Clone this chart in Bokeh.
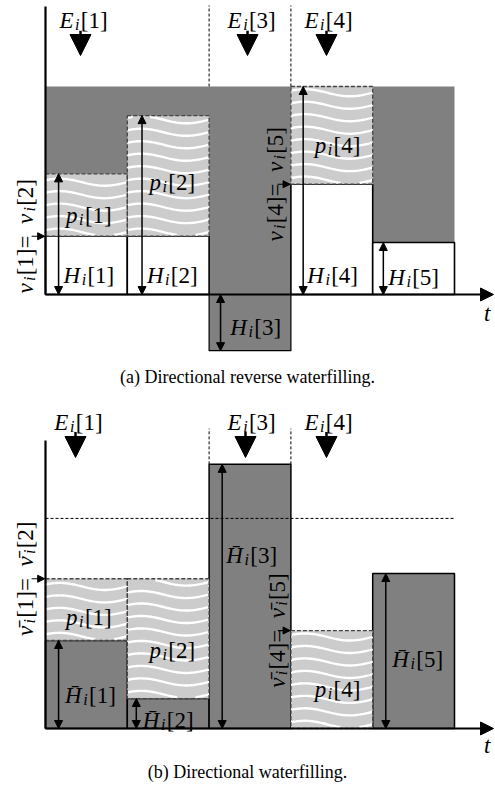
import numpy as np
from bokeh.plotting import figure
from bokeh.models import Arrow, NormalHead, ColumnDataSource
from bokeh.layouts import column
from bokeh.core.properties import value
from bokeh.embed import file_html
from bokeh.resources import INLINE

# ---------------- data ----------------
slots = [1, 2, 3, 4, 5]
left = [0, 1, 2, 3, 4]
right = [1, 2, 3, 4, 5]
E_slots = [1, 3, 4]

# (a) directional reverse waterfilling
ceiling_a = 10.0
H_a = [2.8, 2.8, -2.7, 5.3, 2.5]
p_a = [3.0, 5.8, 0.0, 4.7, 0.0]

# (b) directional waterfilling
H_b = [4.23, 1.44, 12.7, 0.0, 7.45]
p_b = [2.97, 5.76, 0.0, 4.71, 0.0]
ref_level_b = 10.1

caption_a = "(a) Directional reverse waterfilling."
caption_b = "(b) Directional waterfilling."

# ---------------- style ----------------
SERIF = "Liberation Serif"
DARK = "#808080"
WATER = "#cccccc"
FS = 23
XR = (-0.5501, 5.5012)

IT = {'E': 0.611, 'H': 0.722, 'p': 0.5, 'i': 0.278, '\u03bd': 0.47, 't': 0.278}
RM = {'[': 0.333, ']': 0.333, '=': 0.564, ' ': 0.25}


def twidth(s, kind, size):
    tbl = RM if kind == 'rm' else IT
    w = 0.0
    for c in s:
        if c == '\u0304':
            continue
        w += 0.5 if c.isdigit() else tbl.get(c, 0.5)
    if kind == 'it':
        w += 0.07
    if kind == 'sub':
        w += 0.08
    return w * size * (0.7 if kind == 'sub' else 1.0)


def mtext(p, x, y, parts, size=FS, rot=False):
    widths = [twidth(s, k, size) for s, k in parts]
    d = -sum(widths) / 2
    for (s, k), w in zip(parts, widths):
        fs = size * 0.7 if k == 'sub' else size
        shift = 0.32 * size + (0.15 * size if k == 'sub' else 0)
        if rot:
            xo, yo, ang = shift, -d, np.pi / 2
        else:
            xo, yo, ang = d, shift, 0
        p.text(x=[x], y=[y], text=[s], angle=ang, x_offset=xo, y_offset=yo,
               text_align="left", text_baseline="alphabetic",
               text_font=value(SERIF),
               text_font_style="normal" if k == 'rm' else "italic",
               text_font_size=f"{fs:.1f}px", text_color="black")
        d += w


def sym(letter, k, bar=False):
    return [(letter + ('\u0304' if bar else ''), 'it'), ('i', 'sub'), (f'[{k}]', 'rm')]


def waves(p, l, r, b, t):
    xx = np.linspace(l, r, 80)
    xs, ys = [], []
    for base in np.arange(b + 0.2, t + 0.6, 0.6):
        yy = base + 0.17 * np.sin(2 * np.pi * (xx - l) / 1.1 + 0.6)
        yy = np.where((yy > b + 0.06) & (yy < t - 0.06), yy, np.nan)
        if np.all(np.isnan(yy)):
            continue
        xs.append(xx)
        ys.append(yy)
    if xs:
        p.multi_line(xs=xs, ys=ys, line_color="white", line_width=2.4)


def head(size):
    return NormalHead(size=size, fill_color="black", line_color="black", line_width=1)


def varrows(p, xs, y0s, y1s, size=8, lw=1.5):
    src = ColumnDataSource(dict(x=xs, y0=y0s, y1=y1s))
    p.add_layout(Arrow(start=head(size), end=head(size),
                       x_start="x", y_start="y0", x_end="x", y_end="y1",
                       source=src, line_width=lw, line_color="black"))


def harrow(p, x0, x1, y, size=7):
    p.add_layout(Arrow(end=head(size), x_start=x0, y_start=y, x_end=x1, y_end=y, line_width=1.2))


def e_arrows(p, xs, ytop, ytip, ylab, labx):
    for x, lx, k in zip(xs, labx, E_slots):
        p.add_layout(Arrow(end=head(21), x_start=x, y_start=ytop, x_end=x, y_end=ytip, line_width=2.5))
        mtext(p, lx, ylab, sym('E', k))


def axes(p, ytop, ty):
    p.segment(x0=[0], y0=[0], x1=[0], y1=[ytop], line_color="black", line_width=2.2)
    p.add_layout(Arrow(end=head(13), x_start=0, y_start=0, x_end=5.477, y_end=0, line_width=2.2))
    p.text(x=[5.40], y=[ty], text=["t"], text_align="center", text_baseline="middle",
           text_font=value(SERIF), text_font_style="italic", text_font_size=f"{FS}px")


def make_fig(y0, y1, h):
    p = figure(width=495, height=h, x_range=XR, y_range=(y0, y1),
               output_backend="svg", toolbar_location=None, min_border=0,
               x_axis_location=None, y_axis_location=None, outline_line_color=None)
    p.grid.visible = False
    return p


# ================= panel (a) =================
pa = make_fig(-4.8077, 14.135, 394)
pa.quad(left=[0], right=[5], bottom=[0], top=[ceiling_a], fill_color=DARK, line_color=None)
neg = [i for i in range(5) if H_a[i] < 0]
pa.quad(left=[left[i] for i in neg], right=[right[i] for i in neg], bottom=[H_a[i] for i in neg],
        top=[0] * len(neg), fill_color=DARK, line_color="black", line_width=1.2)
pos = [i for i in range(5) if H_a[i] > 0]
pa.quad(left=[left[i] for i in pos], right=[right[i] for i in pos], bottom=[0] * len(pos),
        top=[H_a[i] for i in pos], fill_color="white", line_color="black", line_width=1.6)
wet = [i for i in range(5) if p_a[i] > 0]
wl = [left[i] for i in wet]; wr = [right[i] for i in wet]
wb = [max(H_a[i], 0) for i in wet]; wt = [max(H_a[i], 0) + p_a[i] for i in wet]
pa.quad(left=wl, right=wr, bottom=wb, top=wt, fill_color=WATER, line_color=None)
for a, b, c, d in zip(wl, wr, wb, wt):
    waves(pa, a, b, c, d)
pa.quad(left=wl, right=wr, bottom=wb, top=wt, fill_alpha=0, line_color="#444444",
        line_dash="4 2", line_width=1.3)
pa.segment(x0=[2, 3], y0=[ceiling_a] * 2, x1=[2, 3], y1=[13.9] * 2, line_color="black",
           line_width=1, line_dash="3 2")
axes(pa, 13.85, -0.91)
varrows(pa, [0.16, 1.18, 3.15], [0, 0, 0], [H_a[0] + p_a[0], H_a[1] + p_a[1], H_a[3] + p_a[3]])
varrows(pa, [2.14, 4.13], [H_a[2], 0], [0, H_a[4]])
harrow(pa, -0.17, -0.01, H_a[0])
harrow(pa, 2.84, 2.99, H_a[3])
e_arrows(pa, [0.428, 2.47, 3.435], 12.68, 11.49, 13.52, [0.465, 2.52, 3.46])
mtext(pa, 0.53, 4.13, sym('p', 1))
mtext(pa, 1.55, 5.72, sym('p', 2))
mtext(pa, 3.57, 7.5, sym('p', 4))
mtext(pa, 0.53, 1.25, sym('H', 1))
mtext(pa, 1.55, 1.25, sym('H', 2))
mtext(pa, 2.57, -1.25, sym('H', 3))
mtext(pa, 3.51, 1.25, sym('H', 4))
mtext(pa, 4.5, 1.15, sym('H', 5))
mtext(pa, -0.33, H_a[0], sym('\u03bd', 1) + [(' = ', 'rm')] + sym('\u03bd', 2), rot=True)
mtext(pa, 2.726, H_a[3], sym('\u03bd', 4) + [(' = ', 'rm')] + sym('\u03bd', 5), rot=True)
pa.text(x=[2.47], y=[-3.99], text=[caption_a], text_align="center", text_baseline="middle",
        text_font=value(SERIF), text_font_size="18px")

# ================= panel (b) =================
pb = make_fig(-2.885, 16.058, 394)
dk = [i for i in range(5) if H_b[i] > 0]
pb.quad(left=[left[i] for i in dk], right=[right[i] for i in dk], bottom=[0] * len(dk),
        top=[H_b[i] for i in dk], fill_color=DARK, line_color="black", line_width=1.5)
wet = [i for i in range(5) if p_b[i] > 0]
wl = [left[i] for i in wet]; wr = [right[i] for i in wet]
wb = [H_b[i] for i in wet]; wt = [H_b[i] + p_b[i] for i in wet]
pb.quad(left=wl, right=wr, bottom=wb, top=wt, fill_color=WATER, line_color=None)
for a, b, c, d in zip(wl, wr, wb, wt):
    waves(pb, a, b, c, d)
pb.quad(left=wl, right=wr, bottom=wb, top=wt, fill_alpha=0, line_color="#444444",
        line_dash="4 2", line_width=1.3)
pb.segment(x0=[0], y0=[ref_level_b], x1=[5], y1=[ref_level_b], line_color="black",
           line_width=1, line_dash="3 2")
pb.segment(x0=[2, 3], y0=[H_b[2]] * 2, x1=[2, 3], y1=[14.42] * 2, line_color="black",
           line_width=1, line_dash="3 2")
axes(pb, 13.85, -0.82)
varrows(pb, [0.16, 1.11, 2.16, 4.16], [0, 0, 0, 0], [H_b[0], H_b[1], H_b[2], H_b[4]])
harrow(pb, -0.17, -0.01, H_b[0] + p_b[0])
harrow(pb, 2.84, 2.99, H_b[3] + p_b[3])
e_arrows(pb, [0.367, 2.445, 3.435], 14.25, 13.03, 15.06, [0.403, 2.52, 3.46])
mtext(pb, 0.53, 5.67, sym('p', 1))
mtext(pb, 1.55, 4.09, sym('p', 2))
mtext(pb, 3.57, 2.21, sym('p', 4))
mtext(pb, 0.55, 1.92, sym('H', 1, bar=True))
mtext(pb, 1.50, 0.72, sym('H', 2, bar=True))
mtext(pb, 2.52, 8.65, sym('H', 3, bar=True))
mtext(pb, 4.55, 3.65, sym('H', 5, bar=True))
mtext(pb, -0.33, H_b[0] + p_b[0], sym('\u03bd', 1, bar=True) + [(' = ', 'rm')] + sym('\u03bd', 2, bar=True), rot=True)
mtext(pb, 2.75, H_b[3] + p_b[3], sym('\u03bd', 4, bar=True) + [(' = ', 'rm')] + sym('\u03bd', 5, bar=True), rot=True)
pb.text(x=[2.47], y=[-2.115], text=[caption_b], text_align="center", text_baseline="middle",
        text_font=value(SERIF), text_font_size="18px")

layout = column(pa, pb)
open("out.html", "w").write(file_html(layout, INLINE))
